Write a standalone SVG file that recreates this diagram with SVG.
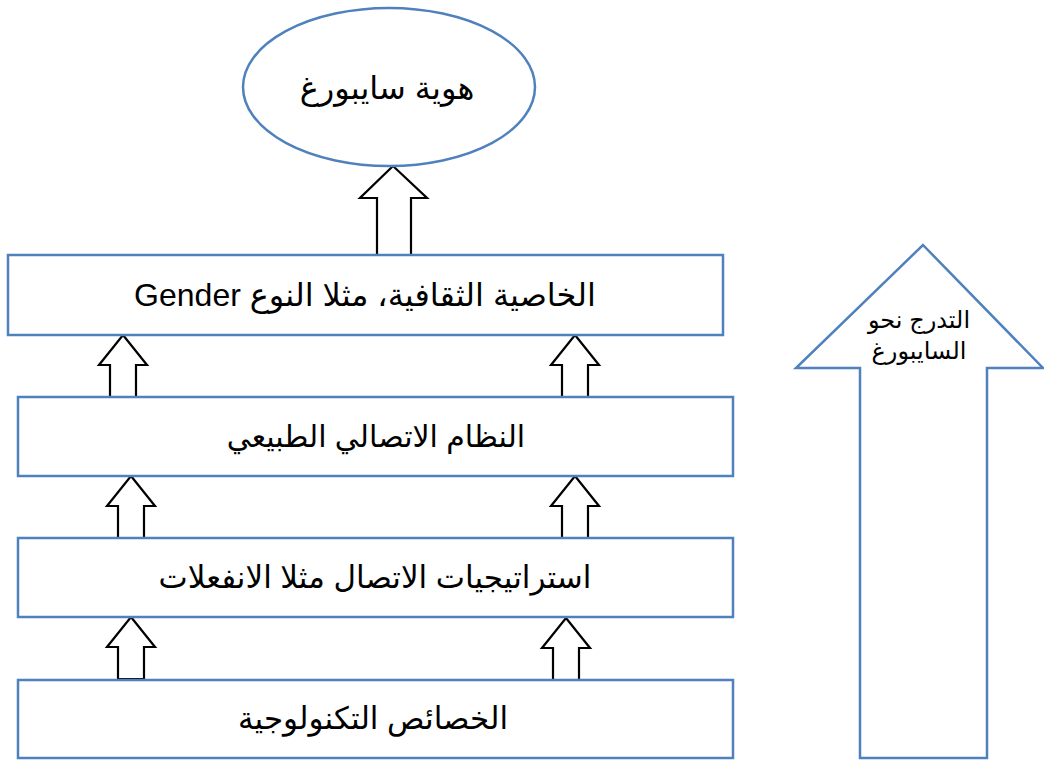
<svg xmlns="http://www.w3.org/2000/svg" xmlns:xlink="http://www.w3.org/1999/xlink" width="1044" height="761" viewBox="0 0 1044 761">
  <style>
    .box { fill: #ffffff; stroke: #4f81bd; stroke-width: 2.5; }
    .blk { fill: #ffffff; stroke: #000000; stroke-width: 2.2; stroke-linejoin: miter; }
    .lbl { font-family: "Liberation Sans", "DejaVu Sans", sans-serif; fill: #000000; text-anchor: middle; direction: rtl; unicode-bidi: embed; }
  </style>
  <defs>
    <!-- hollow upward block arrow, tip at origin -->
    <path id="upArrow" d="M0,0 L24,30 L13,30 L13,62 L-13,62 L-13,30 L-24,30 Z"/>
  </defs>

  <g id="connectors">
    <!-- ellipse <- top box -->
    <path class="blk" d="M393,166 L427,198 L411,198 L411,255 L377,255 L377,198 L360,198 Z"/>
    <!-- box2 -> box1 -->
    <use href="#upArrow" xlink:href="#upArrow" class="blk" x="123" y="335"/>
    <use href="#upArrow" xlink:href="#upArrow" class="blk" x="575" y="335"/>
    <!-- box3 -> box2 -->
    <use href="#upArrow" xlink:href="#upArrow" class="blk" x="131" y="476"/>
    <use href="#upArrow" xlink:href="#upArrow" class="blk" x="575" y="476"/>
    <!-- box4 -> box3 -->
    <use href="#upArrow" xlink:href="#upArrow" class="blk" x="131" y="617"/>
    <use href="#upArrow" xlink:href="#upArrow" class="blk" x="566" y="618"/>
  </g>

  <g id="node-identity">
    <ellipse class="box" cx="389" cy="87" rx="146" ry="79"/>
    <text class="lbl" x="387" y="99" font-size="32">هوية سايبورغ</text>
  </g>

  <g id="node-culture">
    <rect class="box" x="8" y="255" width="715" height="80"/>
    <text class="lbl" x="365" y="306" font-size="32">الخاصية الثقافية، مثلا النوع Gender</text>
  </g>

  <g id="node-natural">
    <rect class="box" x="18" y="397" width="715" height="79"/>
    <text class="lbl" x="376" y="447" font-size="30">النظام الاتصالي الطبيعي</text>
  </g>

  <g id="node-strategies">
    <rect class="box" x="18" y="538" width="715" height="79"/>
    <text class="lbl" x="375" y="588" font-size="31">استراتيجيات الاتصال مثلا الانفعلات</text>
  </g>

  <g id="node-tech">
    <rect class="box" x="18" y="680" width="715" height="78"/>
    <text class="lbl" x="373" y="729" font-size="31">الخصائص التكنولوجية</text>
  </g>

  <g id="node-progression">
    <path class="box" d="M923,245 L1043,368 L987,368 L987,758 L860,758 L860,368 L796,368 Z"/>
    <text class="lbl" x="919" y="328" font-size="24">التدرج نحو</text>
    <text class="lbl" x="919" y="359" font-size="24">السايبورغ</text>
  </g>
</svg>
